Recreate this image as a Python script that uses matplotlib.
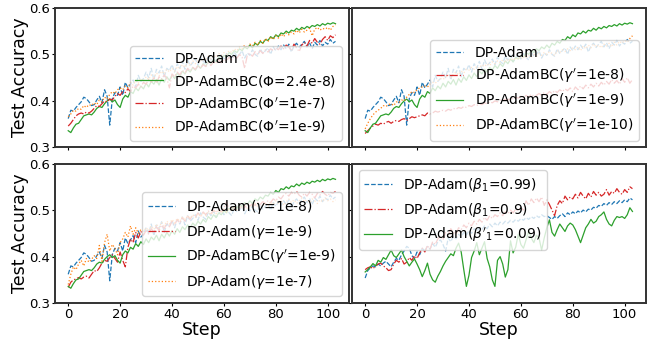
import numpy as np
import matplotlib
matplotlib.use("Agg")
import matplotlib.pyplot as plt

steps = list(range(104))

# DP-Adam (default), shared by three panels
dp_adam = [0.362, 0.380, 0.378, 0.386, 0.392, 0.398, 0.408, 0.405, 0.398, 0.390,
           0.392, 0.402, 0.410, 0.396, 0.424, 0.410, 0.348, 0.405, 0.418, 0.412,
           0.430, 0.412, 0.440, 0.428, 0.436, 0.445, 0.430, 0.455, 0.442, 0.448,
           0.462, 0.450, 0.470, 0.445, 0.468, 0.460, 0.475, 0.452, 0.470, 0.465,
           0.478, 0.462, 0.480, 0.470, 0.485, 0.468, 0.488, 0.476, 0.482, 0.490,
           0.478, 0.494, 0.485, 0.480, 0.496, 0.488, 0.498, 0.484, 0.492, 0.500,
           0.490, 0.502, 0.494, 0.488, 0.505, 0.496, 0.500, 0.508, 0.492, 0.503,
           0.498, 0.510, 0.500, 0.496, 0.512, 0.502, 0.508, 0.514, 0.500, 0.516,
           0.508, 0.518, 0.510, 0.520, 0.512, 0.522, 0.505, 0.518, 0.524, 0.515,
           0.522, 0.528, 0.516, 0.525, 0.512, 0.526, 0.520, 0.530, 0.518, 0.526,
           0.522, 0.532, 0.524, 0.528]

# DP-AdamBC, shared by three panels
dp_adambc = [0.336, 0.332, 0.342, 0.350, 0.352, 0.360, 0.368, 0.370, 0.372, 0.370,
             0.376, 0.384, 0.388, 0.386, 0.394, 0.400, 0.404, 0.398, 0.402, 0.392,
             0.386, 0.404, 0.412, 0.408, 0.420, 0.416, 0.428, 0.422, 0.432, 0.426,
             0.438, 0.430, 0.442, 0.436, 0.446, 0.434, 0.448, 0.440, 0.452, 0.444,
             0.456, 0.448, 0.460, 0.452, 0.464, 0.458, 0.468, 0.462, 0.472, 0.466,
             0.476, 0.470, 0.480, 0.474, 0.486, 0.480, 0.490, 0.484, 0.494, 0.490,
             0.498, 0.494, 0.504, 0.500, 0.508, 0.504, 0.512, 0.508, 0.516, 0.512,
             0.520, 0.514, 0.524, 0.520, 0.528, 0.524, 0.532, 0.530, 0.538, 0.534,
             0.542, 0.538, 0.546, 0.544, 0.550, 0.546, 0.552, 0.550, 0.556, 0.552,
             0.558, 0.555, 0.560, 0.557, 0.562, 0.560, 0.564, 0.561, 0.566, 0.563,
             0.567, 0.565, 0.568, 0.566]

phi_1e7 = [0.346, 0.352, 0.360, 0.368, 0.372, 0.374, 0.372, 0.376, 0.374, 0.378,
           0.384, 0.390, 0.388, 0.394, 0.400, 0.398, 0.404, 0.402, 0.410, 0.416,
           0.412, 0.420, 0.418, 0.426, 0.420, 0.432, 0.428, 0.436, 0.430, 0.440,
           0.436, 0.446, 0.440, 0.450, 0.438, 0.452, 0.446, 0.456, 0.448, 0.428,
           0.458, 0.452, 0.462, 0.456, 0.466, 0.460, 0.470, 0.464, 0.472, 0.468,
           0.476, 0.470, 0.478, 0.474, 0.482, 0.476, 0.484, 0.480, 0.488, 0.482,
           0.490, 0.486, 0.494, 0.488, 0.496, 0.492, 0.500, 0.494, 0.470, 0.498,
           0.502, 0.496, 0.506, 0.500, 0.508, 0.502, 0.510, 0.505, 0.512, 0.508,
           0.514, 0.510, 0.518, 0.512, 0.520, 0.516, 0.508, 0.522, 0.514, 0.506,
           0.520, 0.526, 0.518, 0.530, 0.524, 0.534, 0.526, 0.522, 0.532, 0.538,
           0.530, 0.540, 0.536, 0.542]

phi_1e9 = [0.366, 0.372, 0.380, 0.378, 0.384, 0.382, 0.390, 0.386, 0.392, 0.390,
           0.396, 0.392, 0.402, 0.398, 0.408, 0.404, 0.414, 0.420, 0.416, 0.424,
           0.428, 0.424, 0.432, 0.428, 0.440, 0.434, 0.444, 0.438, 0.448, 0.442,
           0.452, 0.446, 0.456, 0.450, 0.460, 0.454, 0.464, 0.458, 0.468, 0.462,
           0.470, 0.464, 0.474, 0.468, 0.478, 0.472, 0.482, 0.476, 0.486, 0.480,
           0.488, 0.484, 0.492, 0.488, 0.496, 0.490, 0.498, 0.494, 0.502, 0.498,
           0.504, 0.500, 0.508, 0.504, 0.512, 0.508, 0.516, 0.512, 0.520, 0.514,
           0.522, 0.518, 0.526, 0.520, 0.530, 0.524, 0.534, 0.528, 0.538, 0.532,
           0.540, 0.535, 0.544, 0.538, 0.546, 0.542, 0.548, 0.544, 0.552, 0.546,
           0.554, 0.548, 0.552, 0.556, 0.540, 0.554, 0.558, 0.552, 0.556, 0.554,
           0.558, 0.552, 0.560, 0.564]

gp_1e8 = [0.330, 0.336, 0.342, 0.346, 0.350, 0.348, 0.352, 0.350, 0.354, 0.356,
          0.352, 0.356, 0.358, 0.356, 0.360, 0.362, 0.358, 0.362, 0.366, 0.364,
          0.366, 0.368, 0.370, 0.368, 0.374, 0.372, 0.374, 0.378, 0.376, 0.378,
          0.380, 0.378, 0.382, 0.380, 0.384, 0.382, 0.386, 0.384, 0.388, 0.386,
          0.390, 0.388, 0.392, 0.390, 0.394, 0.392, 0.396, 0.394, 0.398, 0.396,
          0.400, 0.398, 0.402, 0.400, 0.404, 0.402, 0.406, 0.404, 0.408, 0.406,
          0.410, 0.406, 0.412, 0.408, 0.414, 0.410, 0.412, 0.416, 0.412, 0.418,
          0.414, 0.420, 0.416, 0.422, 0.418, 0.424, 0.420, 0.426, 0.422, 0.428,
          0.420, 0.430, 0.424, 0.432, 0.426, 0.434, 0.428, 0.436, 0.430, 0.438,
          0.432, 0.440, 0.434, 0.442, 0.436, 0.446, 0.438, 0.444, 0.436, 0.448,
          0.440, 0.450, 0.438, 0.446]

gp_1e10 = [0.340, 0.352, 0.362, 0.370, 0.376, 0.380, 0.384, 0.390, 0.388, 0.392,
           0.394, 0.390, 0.398, 0.396, 0.402, 0.400, 0.408, 0.414, 0.420, 0.418,
           0.424, 0.428, 0.430, 0.432, 0.430, 0.436, 0.440, 0.438, 0.444, 0.448,
           0.446, 0.452, 0.456, 0.450, 0.458, 0.462, 0.456, 0.464, 0.460, 0.468,
           0.466, 0.472, 0.468, 0.474, 0.470, 0.478, 0.474, 0.480, 0.476, 0.484,
           0.480, 0.486, 0.482, 0.488, 0.484, 0.490, 0.486, 0.492, 0.488, 0.494,
           0.490, 0.496, 0.492, 0.498, 0.494, 0.500, 0.496, 0.502, 0.498, 0.504,
           0.500, 0.506, 0.502, 0.498, 0.508, 0.504, 0.510, 0.506, 0.512, 0.508,
           0.514, 0.510, 0.516, 0.508, 0.518, 0.512, 0.520, 0.514, 0.522, 0.516,
           0.520, 0.514, 0.522, 0.518, 0.524, 0.516, 0.526, 0.520, 0.528, 0.524,
           0.530, 0.526, 0.534, 0.540]

g_1e9 = [0.334, 0.345, 0.350, 0.352, 0.355, 0.352, 0.356, 0.358, 0.354, 0.362,
         0.370, 0.368, 0.376, 0.386, 0.392, 0.390, 0.398, 0.404, 0.396, 0.388,
         0.410, 0.392, 0.378, 0.420, 0.438, 0.430, 0.452, 0.440, 0.454, 0.446,
         0.456, 0.448, 0.460, 0.452, 0.464, 0.456, 0.468, 0.460, 0.472, 0.464,
         0.476, 0.468, 0.480, 0.472, 0.484, 0.476, 0.488, 0.480, 0.490, 0.484,
         0.494, 0.486, 0.496, 0.490, 0.498, 0.492, 0.500, 0.494, 0.502, 0.496,
         0.504, 0.518, 0.500, 0.506, 0.502, 0.508, 0.504, 0.510, 0.506, 0.512,
         0.508, 0.514, 0.510, 0.516, 0.512, 0.518, 0.514, 0.520, 0.516, 0.524,
         0.520, 0.528, 0.524, 0.532, 0.536, 0.530, 0.538, 0.534, 0.540, 0.532,
         0.528, 0.536, 0.530, 0.538, 0.534, 0.526, 0.536, 0.532, 0.540, 0.534,
         0.530, 0.538, 0.536, 0.540]

g_1e7 = [0.340, 0.362, 0.378, 0.372, 0.384, 0.392, 0.380, 0.396, 0.388, 0.394,
         0.402, 0.396, 0.424, 0.390, 0.430, 0.448, 0.412, 0.426, 0.418, 0.404,
         0.430, 0.438, 0.452, 0.442, 0.466, 0.448, 0.462, 0.450, 0.458, 0.454,
         0.462, 0.456, 0.466, 0.458, 0.470, 0.462, 0.474, 0.466, 0.476, 0.470,
         0.480, 0.472, 0.482, 0.476, 0.486, 0.478, 0.488, 0.482, 0.490, 0.484,
         0.492, 0.486, 0.494, 0.488, 0.496, 0.490, 0.498, 0.492, 0.500, 0.494,
         0.502, 0.496, 0.504, 0.498, 0.506, 0.500, 0.508, 0.502, 0.510, 0.504,
         0.512, 0.506, 0.514, 0.508, 0.504, 0.512, 0.516, 0.508, 0.518, 0.512,
         0.520, 0.514, 0.522, 0.510, 0.518, 0.524, 0.516, 0.522, 0.514, 0.520,
         0.526, 0.518, 0.522, 0.516, 0.524, 0.520, 0.514, 0.522, 0.518, 0.526,
         0.520, 0.524, 0.518, 0.522]

b_099 = [0.354, 0.370, 0.376, 0.380, 0.378, 0.384, 0.380, 0.386, 0.390, 0.384,
         0.378, 0.388, 0.396, 0.392, 0.404, 0.412, 0.422, 0.418, 0.402, 0.396,
         0.410, 0.404, 0.418, 0.412, 0.422, 0.416, 0.428, 0.420, 0.432, 0.436,
         0.426, 0.412, 0.440, 0.432, 0.444, 0.438, 0.448, 0.442, 0.452, 0.446,
         0.456, 0.450, 0.460, 0.454, 0.462, 0.458, 0.466, 0.460, 0.470, 0.464,
         0.472, 0.466, 0.474, 0.470, 0.476, 0.472, 0.478, 0.474, 0.480, 0.476,
         0.482, 0.478, 0.484, 0.480, 0.486, 0.482, 0.488, 0.484, 0.490, 0.486,
         0.488, 0.484, 0.480, 0.486, 0.482, 0.488, 0.492, 0.486, 0.494, 0.490,
         0.496, 0.492, 0.498, 0.494, 0.500, 0.496, 0.502, 0.500, 0.506, 0.504,
         0.510, 0.508, 0.514, 0.510, 0.516, 0.512, 0.518, 0.514, 0.520, 0.516,
         0.522, 0.518, 0.526, 0.522]

b_09 = [0.372, 0.376, 0.378, 0.374, 0.380, 0.384, 0.386, 0.380, 0.376, 0.370,
        0.372, 0.384, 0.392, 0.388, 0.396, 0.384, 0.388, 0.398, 0.392, 0.402,
        0.396, 0.408, 0.418, 0.410, 0.424, 0.416, 0.432, 0.426, 0.438, 0.444,
        0.436, 0.452, 0.446, 0.460, 0.452, 0.448, 0.462, 0.458, 0.468, 0.462,
        0.472, 0.466, 0.476, 0.470, 0.480, 0.474, 0.484, 0.478, 0.488, 0.482,
        0.490, 0.486, 0.494, 0.488, 0.496, 0.492, 0.500, 0.494, 0.502, 0.498,
        0.506, 0.500, 0.520, 0.510, 0.524, 0.516, 0.526, 0.518, 0.528, 0.510,
        0.522, 0.512, 0.500, 0.488, 0.510, 0.520, 0.514, 0.530, 0.522, 0.528,
        0.524, 0.534, 0.526, 0.538, 0.530, 0.524, 0.536, 0.528, 0.540, 0.532,
        0.538, 0.530, 0.534, 0.544, 0.532, 0.540, 0.536, 0.546, 0.538, 0.534,
        0.544, 0.538, 0.550, 0.546]

b_009 = [0.367, 0.372, 0.378, 0.385, 0.380, 0.392, 0.388, 0.398, 0.394, 0.404,
         0.414, 0.402, 0.398, 0.406, 0.414, 0.400, 0.390, 0.380, 0.388, 0.395,
         0.384, 0.372, 0.357, 0.370, 0.386, 0.362, 0.350, 0.345, 0.358, 0.368,
         0.380, 0.390, 0.398, 0.406, 0.402, 0.418, 0.429, 0.410, 0.372, 0.336,
         0.360, 0.398, 0.412, 0.430, 0.404, 0.418, 0.432, 0.396, 0.378, 0.350,
         0.336, 0.392, 0.400, 0.384, 0.356, 0.372, 0.434, 0.408, 0.420, 0.448,
         0.426, 0.418, 0.436, 0.455, 0.440, 0.430, 0.446, 0.440, 0.414, 0.440,
         0.462, 0.479, 0.452, 0.444, 0.458, 0.470, 0.462, 0.454, 0.466, 0.472,
         0.468, 0.458, 0.444, 0.430, 0.446, 0.462, 0.470, 0.480, 0.472, 0.476,
         0.486, 0.490, 0.496, 0.480, 0.470, 0.466, 0.478, 0.486, 0.484, 0.486,
         0.482, 0.490, 0.505, 0.497]

BLUE, ORANGE, GREEN, RED = 'tab:blue', 'tab:orange', 'tab:green', 'tab:red'

fig, axes = plt.subplots(2, 2, figsize=(6.53, 3.41), dpi=100, sharex=True, sharey=True)
fig.subplots_adjust(left=0.084, right=0.989, top=0.977, bottom=0.111, wspace=0.01, hspace=0.115)

lw = 0.9
ax = axes[0, 0]
ax.plot(steps, dp_adam, color=BLUE, ls='--', lw=lw, label='DP-Adam')
ax.plot(steps, dp_adambc, color=GREEN, ls='-', lw=lw, label=r'DP-AdamBC($\Phi$=2.4e-8)')
ax.plot(steps, phi_1e7, color=RED, ls='-.', lw=lw, label=r"DP-AdamBC($\Phi'$=1e-7)")
ax.plot(steps, phi_1e9, color=ORANGE, ls=':', lw=lw, label=r"DP-AdamBC($\Phi'$=1e-9)")
ax.legend(loc='lower right', fontsize=10)

ax = axes[0, 1]
ax.plot(steps, dp_adam, color=BLUE, ls='--', lw=lw, label='DP-Adam')
ax.plot(steps, gp_1e8, color=RED, ls='-.', lw=lw, label=r"DP-AdamBC($\gamma'$=1e-8)")
ax.plot(steps, dp_adambc, color=GREEN, ls='-', lw=lw, label=r"DP-AdamBC($\gamma'$=1e-9)")
ax.plot(steps, gp_1e10, color=ORANGE, ls=':', lw=lw, label=r"DP-AdamBC($\gamma'$=1e-10)")
ax.legend(loc='lower right', fontsize=10)

ax = axes[1, 0]
ax.plot(steps, dp_adam, color=BLUE, ls='--', lw=lw, label=r'DP-Adam($\gamma$=1e-8)')
ax.plot(steps, g_1e9, color=RED, ls='-.', lw=lw, label=r'DP-Adam($\gamma$=1e-9)')
ax.plot(steps, dp_adambc, color=GREEN, ls='-', lw=lw, label=r"DP-AdamBC($\gamma'$=1e-9)")
ax.plot(steps, g_1e7, color=ORANGE, ls=':', lw=lw, label=r'DP-Adam($\gamma$=1e-7)')
ax.legend(loc='lower right', fontsize=10)

ax = axes[1, 1]
ax.plot(steps, b_099, color=BLUE, ls='--', lw=lw, label=r'DP-Adam($\beta_1$=0.99)')
ax.plot(steps, b_09, color=RED, ls='-.', lw=lw, label=r'DP-Adam($\beta_1$=0.9)')
ax.plot(steps, b_009, color=GREEN, ls='-', lw=lw, label=r"DP-Adam($\beta'_1$=0.09)")
ax.legend(loc='upper left', fontsize=10)

for ax in axes.flat:
    ax.set_ylim(0.3, 0.6)
    ax.set_yticks([0.3, 0.4, 0.5, 0.6])
    ax.set_xticks([0, 20, 40, 60, 80, 100])
    ax.tick_params(labelsize=9.5, length=2, pad=1.5)
    for sp in ax.spines.values():
        sp.set_linewidth(1.4)
        sp.set_color('#333333')

for ax in axes[:, 0]:
    ax.set_ylabel('Test Accuracy', fontsize=12.5, labelpad=0)
for ax in axes[1, :]:
    ax.set_xlabel('Step', fontsize=12.5, labelpad=0)

fig.savefig('out.png', dpi=100)
